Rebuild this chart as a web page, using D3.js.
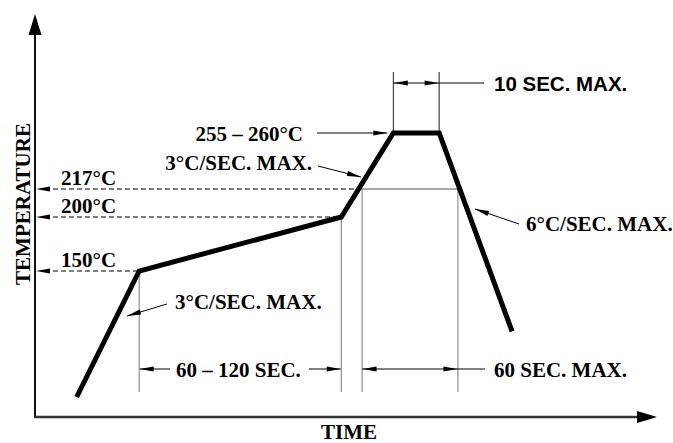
<!DOCTYPE html>
<html><head><meta charset="utf-8">
<script src="https://cdn.jsdelivr.net/npm/d3@7"></script>
<style>
html,body{margin:0;padding:0;background:#fff;}
svg{display:block;}
.serif{font-family:"Liberation Serif","Times New Roman",serif;font-weight:bold;font-size:21px;fill:#000;}
.sans{font-family:"Liberation Sans",Arial,sans-serif;font-weight:bold;font-size:20.5px;fill:#000;}
</style>
</head><body>
<svg id="c" width="673" height="443"></svg>
<script>
// ---- data (schematic reflow profile) ----
const profileTime = [20, 50, 147, 172, 194, 229];      // s (schematic)
const profileTemp = [25, 150, 200, 260, 260, 90];      // °C
const refTemps   = [150, 200, 217];
const refLabels  = ["150°C", "200°C", "217°C"];
const soakTimes     = [50, 147];   // 60 – 120 SEC window
const liquidusTimes = [157, 203];  // time above 217°C
const peakTimes     = [172, 194];  // time at peak
const tempScaleDomain = [25, 150, 200, 217, 260];
const axisLabels = {x: "TIME", y: "TEMPERATURE"};
const noteTexts = {
  peak: "255 – 260°C",
  rampUp: "3°C/SEC. MAX.",
  rampDown: "6°C/SEC. MAX.",
  preheat: "3°C/SEC. MAX.",
  soak: "60 – 120 SEC.",
  liquidus: "60 SEC. MAX.",
  peakDur: "10 SEC. MAX."
};

// ---- scales (schematic, not to scale) ----
const x = d3.scaleLinear().domain([0, 300]).range([35, 660]);
const y = d3.scaleLinear().domain(tempScaleDomain).range([397, 271, 217, 189, 133]);

const svg = d3.select("#c");
const axisX0 = 35, axisY0 = 417;

function tri(tipX, tipY, dirX, dirY, len, half, color) {
  const bx = tipX - dirX * len, by = tipY - dirY * len;
  const px = -dirY, py = dirX;
  svg.append("path")
    .attr("d", `M${tipX},${tipY}L${bx + px*half},${by + py*half}L${bx - px*half},${by - py*half}Z`)
    .attr("fill", color || "#000");
}
function arrowTo(x1, y1, x2, y2, len, half, color, sw) {
  svg.append("line").attr("x1", x1).attr("y1", y1).attr("x2", x2).attr("y2", y2)
    .attr("stroke", color || "#000").attr("stroke-width", sw || 1);
  const dx = x2 - x1, dy = y2 - y1, L = Math.hypot(dx, dy);
  tri(x2, y2, dx / L, dy / L, len || 14, half || 2.6, color);
}
function thin(x1, y1, x2, y2, color, dash) {
  const l = svg.append("line").attr("x1", x1).attr("y1", y1).attr("x2", x2).attr("y2", y2)
    .attr("stroke", color || "#000").attr("stroke-width", 1);
  if (dash) l.attr("stroke-dasharray", dash);
  return l;
}

// ---- axes ----
svg.append("line").attr("x1", axisX0).attr("y1", axisY0 + 1).attr("x2", axisX0).attr("y2", 30)
  .attr("stroke", "#111").attr("stroke-width", 2);
tri(axisX0, 14, 0, -1, 21, 6.5, "#000");
svg.append("line").attr("x1", axisX0 - 1).attr("y1", axisY0).attr("x2", 640).attr("y2", axisY0)
  .attr("stroke", "#333").attr("stroke-width", 2.5);
tri(657, axisY0, 1, 0, 20, 6, "#000");

svg.append("text").attr("class", "serif").attr("text-anchor", "middle")
  .attr("transform", `translate(30,204) rotate(-90)`).text(axisLabels.y);
svg.append("text").attr("class", "serif").attr("text-anchor", "middle")
  .attr("x", 349).attr("y", 439).text(axisLabels.x);

// ---- reference temperature lines ----
const refEnds = [x(soakTimes[0]), x(soakTimes[1]), x(liquidusTimes[0])];
refTemps.forEach((t, i) => {
  thin(axisX0 + 10, y(t), refEnds[i], y(t), "#000", "5,3");
  tri(axisX0 + 1, y(t), -1, 0, 14, 2.4, "#000");
  svg.append("text").attr("class", "serif").attr("x", 61).attr("y", y(t) - 4).text(refLabels[i]);
});
// solid segment of 217 line above liquidus
thin(x(liquidusTimes[0]), y(217), x(liquidusTimes[1]), y(217), "#555");

// ---- vertical marker lines ----
const dimY = 369;
const vBottom = 392;
thin(x(soakTimes[0]), y(150), x(soakTimes[0]), vBottom, "#777");
thin(x(soakTimes[1]), y(200), x(soakTimes[1]), vBottom, "#777");
thin(x(liquidusTimes[0]), y(217), x(liquidusTimes[0]), vBottom, "#777");
thin(x(liquidusTimes[1]), y(217), x(liquidusTimes[1]), vBottom, "#777");
thin(x(peakTimes[0]), y(260), x(peakTimes[0]), 72, "#222");
thin(x(peakTimes[1]), y(260), x(peakTimes[1]), 72, "#222");

// ---- dimension arrows ----
// soak 60 – 120 SEC.
arrowTo(170, dimY, x(soakTimes[0]) + 0.5, dimY);
arrowTo(309, dimY, x(soakTimes[1]) - 0.5, dimY);
svg.append("text").attr("class", "serif").attr("x", 176).attr("y", 377).text(noteTexts.soak);
// time above liquidus
thin(x(liquidusTimes[0]), dimY, 485, dimY, "#000");
tri(x(liquidusTimes[0]) + 0.5, dimY, -1, 0, 14, 2.6);
tri(x(liquidusTimes[1]) - 0.5, dimY, 1, 0, 14, 2.6);
svg.append("text").attr("class", "serif").attr("x", 494).attr("y", 377).text(noteTexts.liquidus);
// peak duration
const pkY = 83;
thin(x(peakTimes[0]), pkY, 484, pkY, "#000");
tri(x(peakTimes[0]) + 0.5, pkY, -1, 0, 14, 2.6);
tri(x(peakTimes[1]) - 0.5, pkY, 1, 0, 14, 2.6);
svg.append("text").attr("class", "sans").attr("x", 494).attr("y", 91).text(noteTexts.peakDur);

// ---- profile ----
const pts = profileTime.map((t, i) => [x(t), y(profileTemp[i])]);
svg.append("path").attr("d", d3.line()(pts))
  .attr("fill", "none").attr("stroke", "#000").attr("stroke-width", 5)
  .attr("stroke-linejoin", "miter").attr("stroke-linecap", "butt");

// ---- leader notes ----
svg.append("text").attr("class", "serif").attr("text-anchor", "end")
  .attr("x", 303).attr("y", 141).text(noteTexts.peak);
arrowTo(317, y(260), x(peakTimes[0]) - 6, y(260));

svg.append("text").attr("class", "serif").attr("text-anchor", "end")
  .attr("x", 312).attr("y", 170).text(noteTexts.rampUp);
arrowTo(318, 166, 361, 177);

svg.append("text").attr("class", "serif")
  .attr("x", 526).attr("y", 231).text(noteTexts.rampDown);
arrowTo(519, 224, 475, 209);

svg.append("text").attr("class", "serif")
  .attr("x", 175).attr("y", 309).text(noteTexts.preheat);
arrowTo(167, 304, 127, 316);
</script>
</body></html>
